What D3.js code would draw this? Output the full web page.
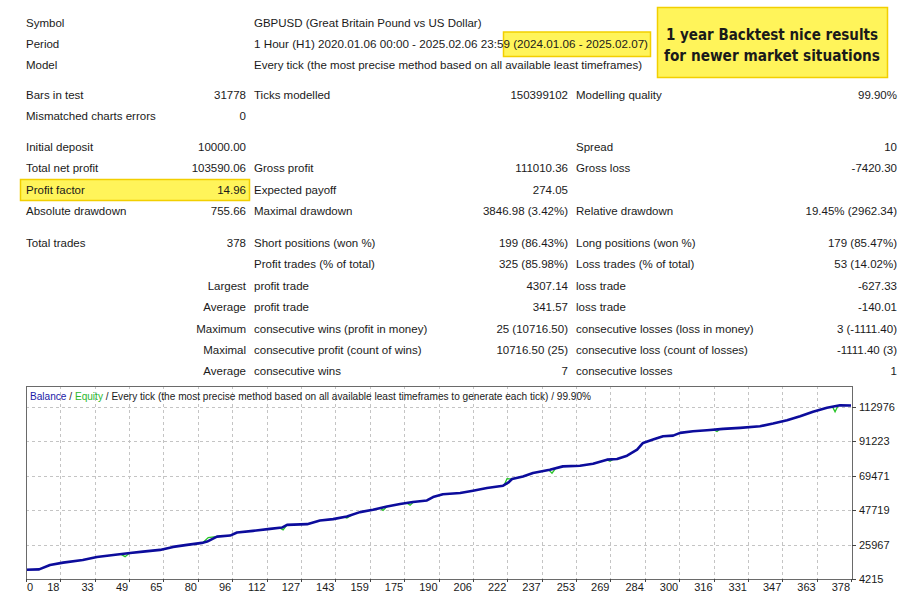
<!DOCTYPE html>
<html><head><meta charset="utf-8">
<script src="https://cdn.jsdelivr.net/npm/d3@7/dist/d3.min.js"></script>
<style>
html,body{margin:0;padding:0;background:#fff;}
svg{display:block;}
text{font-family:"Liberation Sans",Arial,sans-serif;fill:#1a1a1a;}
</style></head>
<body>
<svg id="c" width="904" height="600"></svg>
<script>
// ---------- DATA ----------
const headerLabels = ["Symbol", "Period", "Model"];
const headerValues = [
  "GBPUSD (Great Britain Pound vs US Dollar)",
  "1 Hour (H1) 2020.01.06 00:00 - 2025.02.06 23:59 (2024.01.06 - 2025.02.07)",
  "Every tick (the most precise method based on all available least timeframes)"
];
const statLabels1 = ["Bars in test","Mismatched charts errors","Initial deposit","Total net profit","Profit factor","Absolute drawdown","Total trades","","Largest","Average","Maximum","Maximal","Average"];
const statValues1 = ["31778","0","10000.00","103590.06","14.96","755.66","378","","","","","",""];
const statLabels2 = ["Ticks modelled","","","Gross profit","Expected payoff","Maximal drawdown","Short positions (won %)","Profit trades (% of total)","profit trade","profit trade","consecutive wins (profit in money)","consecutive profit (count of wins)","consecutive wins"];
const statValues2 = ["150399102","","","111010.36","274.05","3846.98 (3.42%)","199 (86.43%)","325 (85.98%)","4307.14","341.57","25 (10716.50)","10716.50 (25)","7"];
const statLabels3 = ["Modelling quality","","Spread","Gross loss","","Relative drawdown","Long positions (won %)","Loss trades (% of total)","loss trade","loss trade","consecutive losses (loss in money)","consecutive loss (count of losses)","consecutive losses"];
const statValues3 = ["99.90%","","10","-7420.30","","19.45% (2962.34)","179 (85.47%)","53 (14.02%)","-627.33","-140.01","3 (-1111.40)","-1111.40 (3)","1"];
const calloutLines = ["1 year Backtest nice results", "for newer market situations"];
const legendParts = ["Balance", " / ", "Equity", " / Every tick (the most precise method based on all available least timeframes to generate each tick) / 99.90%"];

const tradeNo = [0,6,11,17,26,32.5,40,47.7,53.6,61.4,67.4,73.8,80.6,83,87.5,93.5,96.7,104,111.8,117.3,119.6,128.8,134.7,140.7,147,153,159,165.4,171.4,177.3,183.7,186.5,191,198.9,204.8,211.2,218.6,220.9,222.7,227.7,232.3,240,246,253.8,259.8,266.2,270.8,275.4,280,282.7,287.3,291.9,296.5,299.7,305.6,312,319.4,327.2,336.3,342.3,348.7,354.7,360.6,367,373,378];
const balance = [10000,10300,13067,14522,16229,18126,19390,20655,21477,22552,24449,25713,26978,27800,30961,31594,33491,34565,35830,36652,38359,38802,41078,41963,43607,46389,47844,49931,51448,52713,53725,55875,57645,58404,59857,61565,63019,64916,67256,68900,71049,73136,75222,75665,76930,79459,79902,81988,85782,90018,92102,94192,94634,96342,97353,97986,98871,99503,100515,102222,104309,106838,109620,112149,113793,113590];
// equity excursions away from balance: [trade, equity]
const equityDips = [
  [[43,20200],[45.4,18300],[47.5,20600]],
  [[81,27100],[83.5,30300],[87,30900]],
  [[116,36600],[117.8,35200],[119.6,38300]],
  [[145.5,43400],[147,42700],[149,44300]],
  [[162,49200],[163.6,47500],[165.5,50000]],
  [[174.5,52200],[176,50700],[177.5,52700]],
  [[219,63200],[220.4,67400],[222.7,67300]],
  [[239.5,73000],[241,70900],[242.5,73600]],
  [[266,79400],[267.6,78400],[269,79700]],
  [[315,98300],[316.6,97200],[318,98800]],
  [[369.5,112900],[370.7,109600],[372,113300]]
];
const xTickLabels = ["0","18","33","49","65","80","96","112","127","143","159","175","190","206","222","237","253","269","284","300","316","331","347","363","378"];
const yTickValues = [4215,25967,47719,69471,91223,112976];

// ---------- DRAW ----------
const svg = d3.select("#c");

const hdrY = [22.7, 43.7, 64.7];
const statY = [95,116,147,168.3,190,211.3,242.7,264,285.7,307,328.7,350,371.3];
const C1L = 26, C1R = 246, C2L = 254, C2R = 568, C3L = 576, C3R = 897;
const FS = 11.5;

// highlight boxes
svg.append("rect").attr("x",20.5).attr("y",179.5).attr("width",229).attr("height",21)
  .attr("fill","#fff45a").attr("stroke","#f2cf00").attr("stroke-width",1.5);
svg.append("rect").attr("x",503.5).attr("y",32).attr("width",147).attr("height",24.5)
  .attr("fill","#fff45a").attr("stroke","#f2cf00").attr("stroke-width",1.5);
svg.append("rect").attr("x",657.5).attr("y",7.5).attr("width",230).attr("height",70)
  .attr("fill","#fff45a").attr("stroke","#f2cf00").attr("stroke-width",1.5);

function txt(x, y, s, anchor) {
  return svg.append("text").attr("x", x).attr("y", y + 4.1).attr("font-size", FS)
    .attr("text-anchor", anchor || "start").text(s);
}
headerLabels.forEach((s,i) => txt(C1L, hdrY[i], s));
headerValues.forEach((s,i) => {
  const t = txt(C2L, hdrY[i], s);
  if (i === 1) t.attr("textLength", 394).attr("lengthAdjust", "spacingAndGlyphs");
});

statLabels1.forEach((s,i) => {
  if (!s) return;
  const rightAligned = i >= 8;
  txt(rightAligned ? C1R : C1L, statY[i], s, rightAligned ? "end" : "start");
});
statValues1.forEach((s,i) => { if (s) txt(C1R, statY[i], s, "end"); });
statLabels2.forEach((s,i) => { if (s) txt(C2L, statY[i], s); });
statValues2.forEach((s,i) => { if (s) txt(C2R, statY[i], s, "end"); });
statLabels3.forEach((s,i) => { if (s) txt(C3L, statY[i], s); });
statValues3.forEach((s,i) => { if (s) txt(C3R, statY[i], s, "end"); });

// callout text
calloutLines.forEach((s,i) => {
  svg.append("text").attr("x", 772).attr("y", [40, 60.5][i]).attr("text-anchor","middle")
    .attr("font-size", 15.2).attr("font-weight", 700)
    .style("font-family", "'DejaVu Sans Condensed','DejaVu Sans',sans-serif")
    .attr("textLength", [212, 216][i]).attr("lengthAdjust", "spacingAndGlyphs")
    .attr("fill","#111")
    .text(s);
});

// ---------- CHART ----------
const L = 26, R = 852, T = 386, B = 579;
const x = d3.scaleLinear().domain([0, 378]).range([L, 851]);
const y = d3.scaleLinear().domain([4215, 112976]).range([B, 406.5]);
const tickPos = i => x(i * 378 / (xTickLabels.length - 1));

const g = svg.append("g");
g.selectAll("line.vg").data(xTickLabels.slice(1, -1)).join("line")
  .attr("x1", (d,i) => Math.round(tickPos(i+1)) + 0.5).attr("x2", (d,i) => Math.round(tickPos(i+1)) + 0.5)
  .attr("y1", T).attr("y2", B).attr("stroke","#c4c4c4").attr("stroke-dasharray","3,3");
g.selectAll("line.hg").data(yTickValues.slice(1)).join("line")
  .attr("x1", L).attr("x2", R)
  .attr("y1", d => Math.round(y(d)) + 0.5).attr("y2", d => Math.round(y(d)) + 0.5)
  .attr("stroke","#c4c4c4").attr("stroke-dasharray","3,3");

const line = d3.line().x(d => x(d[0])).y(d => y(d[1]));
g.selectAll("path.eq").data(equityDips).join("path")
  .attr("d", line).attr("fill","none").attr("stroke","#27c427").attr("stroke-width",1.3);

const balPts = tradeNo.map((t,i) => [t, balance[i]]);
g.append("path").attr("d", line(balPts)).attr("fill","none")
  .attr("stroke","#0c0c9c").attr("stroke-width",2.6).attr("stroke-linejoin","round");

g.append("rect").attr("x", L + 0.5).attr("y", T + 0.5).attr("width", R - L).attr("height", B - T)
  .attr("fill","none").attr("stroke","#6a6a6a").attr("stroke-width",1);

yTickValues.forEach(v => {
  const yy = Math.round(y(v)) + 0.5;
  g.append("line").attr("x1", R).attr("x2", R + 4).attr("y1", yy).attr("y2", yy).attr("stroke","#444");
  g.append("text").attr("x", 859).attr("y", y(v) + 4).attr("font-size", 11).text(d3.format("d")(v));
});

xTickLabels.forEach((s,i) => {
  const px = tickPos(i);
  g.append("line").attr("x1", Math.round(px)+0.5).attr("x2", Math.round(px)+0.5).attr("y1", B).attr("y2", B+3).attr("stroke","#444");
  g.append("text").attr("x", i === 0 ? px + 1 : px - 1).attr("y", 590.5).attr("font-size", 11)
    .attr("text-anchor", i === 0 ? "start" : "end").text(s);
});

const lg = g.append("text").attr("x", 30).attr("y", 399.5).attr("font-size", 10.1);
const legendColors = ["#1a1aa8", "#1a1a1a", "#2cb82c", "#1a1a1a"];
legendParts.forEach((s,i) => lg.append("tspan").attr("fill", legendColors[i]).style("white-space","pre").text(s));
</script>
</body></html>
